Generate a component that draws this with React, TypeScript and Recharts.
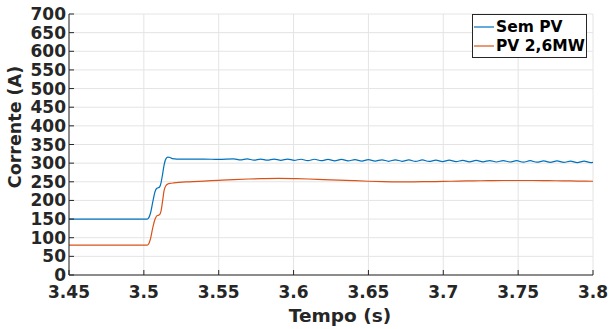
import { LineChart, Line, XAxis, YAxis, CartesianGrid } from 'recharts';

// Sem PV (corrente em A)
const semPvTime = [
    3.45, 3.502, 3.503, 3.5045, 3.506, 3.5075, 3.5085, 3.5095, 3.5105, 3.5115, 3.5125, 3.5135, 3.5148,
    3.516, 3.5175, 3.519, 3.522, 3.53, 3.54, 3.55,
    3.56, 3.5645, 3.569, 3.5735, 3.578, 3.5825, 3.587, 3.5915, 3.596, 3.6005,
    3.605, 3.6095, 3.614, 3.6185, 3.623, 3.6275, 3.632, 3.6365, 3.641, 3.6455,
    3.65, 3.6545, 3.659, 3.6635, 3.668, 3.6725, 3.677, 3.6815, 3.686, 3.6905,
    3.695, 3.6995, 3.704, 3.7085, 3.713, 3.7175, 3.722, 3.7265, 3.731, 3.7355,
    3.74, 3.7445, 3.749, 3.7535, 3.758, 3.7625, 3.767, 3.7715, 3.776, 3.7805,
    3.785, 3.7895, 3.794, 3.7985, 3.8,
];
const semPvCurrent = [
    150, 150, 152, 167, 197, 224, 232, 234, 236, 248, 270, 295, 312,
    316, 315, 312, 311, 311, 311, 310,
    311.5, 308.5, 311.5, 308, 311, 308, 311, 307.5, 311, 307.5,
    310.5, 306.5, 310.5, 306.5, 310, 306, 310, 306, 309.5, 305.5,
    309.5, 305.5, 309, 305, 309, 305, 308.5, 304.5, 308.5, 304.5,
    308, 304, 308, 304, 307.5, 303.5, 307.5, 303.5, 307, 303,
    307, 303, 306.5, 302.5, 306.5, 302.5, 306, 302, 306, 302,
    305.5, 301.5, 305.5, 301.5, 302,
];

// PV 2,6MW
const pvTime = [
    3.45, 3.502, 3.503, 3.5045, 3.506, 3.5075, 3.5085, 3.5095, 3.5105, 3.5115, 3.5125, 3.5135, 3.5148,
    3.516, 3.518, 3.52, 3.53, 3.54, 3.55, 3.56, 3.57, 3.58, 3.59, 3.6,
    3.61, 3.62, 3.63, 3.64, 3.65, 3.66, 3.67, 3.68, 3.69, 3.7,
    3.71, 3.72, 3.73, 3.74, 3.75, 3.76, 3.77, 3.78, 3.79, 3.8,
];
const pvCurrent = [
    80, 80, 82, 98, 128, 150, 158, 160, 162, 172, 198, 226, 240,
    244, 246, 247, 250, 252, 254, 256, 257.5, 258.5, 259, 258.5,
    257.5, 256, 254.5, 253, 251.5, 250.5, 250, 250, 250.5, 251,
    252, 252.5, 253, 253.5, 253.5, 253.5, 253, 252.5, 252, 251.5,
];

const xTicks = [3.45, 3.5, 3.55, 3.6, 3.65, 3.7, 3.75, 3.8];
const yTicks = [0, 50, 100, 150, 200, 250, 300, 350, 400, 450, 500, 550, 600, 650, 700];

const seriesNames = ['Sem PV', 'PV 2,6MW'];
const seriesColors = ['#0072BD', '#D95319'];

const semPvData = semPvTime.map((t, i) => ({ t, v: semPvCurrent[i] }));
const pvData = pvTime.map((t, i) => ({ t, v: pvCurrent[i] }));

const AXIS = '#262626';
const FONT = '"DejaVu Sans", Verdana, sans-serif';
const TICK_LEN = 5;

const fmt = (v: number) => String(Number(v.toFixed(2)));

// ticks para dentro, estilo MATLAB
const BottomTick = ({ x, y, payload }: any) => (
    <g>
        <line x1={x} x2={x} y1={y} y2={y - TICK_LEN} stroke={AXIS} strokeWidth={1} />
        <text x={x} y={y + 23} textAnchor="middle" fill={AXIS} fontSize={17} fontWeight="bold" fontFamily={FONT}>
            {fmt(payload.value)}
        </text>
    </g>
);
const TopTick = ({ x, y }: any) => (
    <line x1={x} x2={x} y1={y} y2={y + TICK_LEN} stroke={AXIS} strokeWidth={1} />
);
const LeftTick = ({ x, y, payload }: any) => (
    <g>
        <line x1={x} x2={x + TICK_LEN} y1={y} y2={y} stroke={AXIS} strokeWidth={1} />
        <text x={x - 3} y={y + 6} textAnchor="end" fill={AXIS} fontSize={17} fontWeight="bold" fontFamily={FONT}>
            {payload.value}
        </text>
    </g>
);
const RightTick = ({ x, y }: any) => (
    <line x1={x} x2={x - TICK_LEN} y1={y} y2={y} stroke={AXIS} strokeWidth={1} />
);

export default function App() {
    return (
        <div style={{ position: 'absolute', left: 0, top: 0, width: 614, height: 329, background: '#fff' }}>
            <LineChart width={614} height={329} margin={{ top: 14, right: 21, left: 0, bottom: 0 }}>
                <CartesianGrid stroke="#e4e4e4" strokeWidth={1} />
                <XAxis
                    dataKey="t"
                    type="number"
                    domain={[3.45, 3.8]}
                    ticks={xTicks}
                    allowDataOverflow
                    height={54}
                    tickSize={0}
                    tickMargin={0}
                    tickLine={false}
                    stroke={AXIS}
                    tick={<BottomTick />}
                    interval={0}
                />
                <XAxis
                    xAxisId="top"
                    orientation="top"
                    dataKey="t"
                    type="number"
                    domain={[3.45, 3.8]}
                    ticks={xTicks}
                    allowDataOverflow
                    height={0}
                    tickSize={0}
                    tickMargin={0}
                    tickLine={false}
                    stroke={AXIS}
                    tick={<TopTick />}
                    interval={0}
                />
                <YAxis
                    type="number"
                    domain={[0, 700]}
                    ticks={yTicks}
                    width={69}
                    tickSize={0}
                    tickMargin={0}
                    tickLine={false}
                    stroke={AXIS}
                    tick={<LeftTick />}
                    interval={0}
                />
                <YAxis
                    yAxisId="right"
                    orientation="right"
                    type="number"
                    domain={[0, 700]}
                    ticks={yTicks}
                    width={0}
                    tickSize={0}
                    tickMargin={0}
                    tickLine={false}
                    stroke={AXIS}
                    tick={<RightTick />}
                    interval={0}
                />
                <Line data={semPvData} dataKey="v" name={seriesNames[0]} type="monotone" stroke={seriesColors[0]} strokeWidth={1.2} dot={false} isAnimationActive={false} />
                <Line data={pvData} dataKey="v" name={seriesNames[1]} type="monotone" stroke={seriesColors[1]} strokeWidth={1.2} dot={false} isAnimationActive={false} />
                <text x={15} y={127} transform="rotate(-90 15 127)" textAnchor="middle" dominantBaseline="central" fill={AXIS} fontSize={17.5} fontWeight="bold" fontFamily={FONT}>
                    Corrente (A)
                </text>
                <text x={340} y={322} textAnchor="middle" fill={AXIS} fontSize={18.5} fontWeight="bold" fontFamily={FONT}>
                    Tempo (s)
                </text>
            </LineChart>

            {/* legenda */}
            <div style={{
                position: 'absolute', left: 472, top: 14, width: 113, height: 40,
                border: `1px solid ${AXIS}`, background: '#fff', paddingTop: 2, fontFamily: FONT,
            }}>
                {seriesNames.map((name, i) => (
                    <div key={name} style={{ display: 'flex', alignItems: 'center', height: 19.5 }}>
                        <svg width={23} height={4} style={{ display: 'block' }}>
                            <line x1={1} x2={21} y1={2} y2={2} stroke={seriesColors[i]} strokeWidth={1.2} />
                        </svg>
                        <span style={{ fontSize: 15.5, fontWeight: 'bold', color: '#000', whiteSpace: 'nowrap' }}>{name}</span>
                    </div>
                ))}
            </div>
        </div>
    );
}
